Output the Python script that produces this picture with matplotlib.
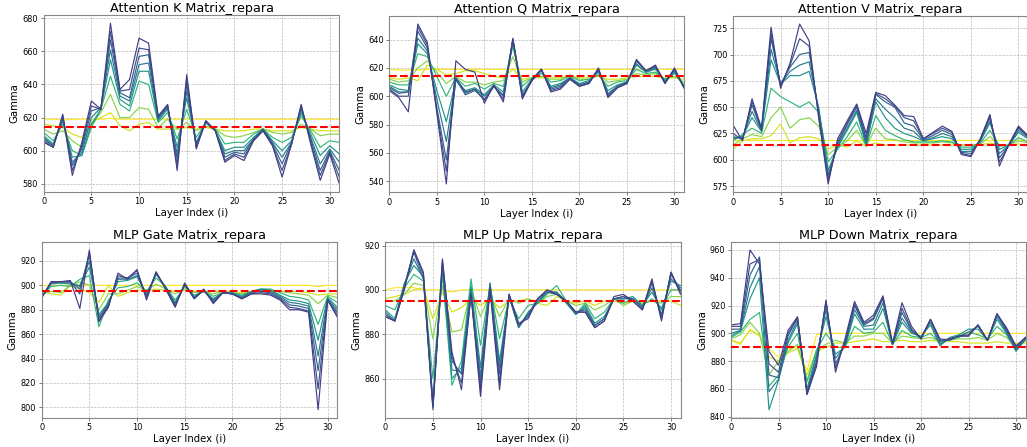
import matplotlib
matplotlib.use("Agg")
import matplotlib.pyplot as plt
from matplotlib.ticker import MultipleLocator

LAYERS = list(range(32))

# each panel: s0 = first (yellow) ... s6 = last (dark)
k_s0 = [619, 619, 618.5, 619, 619, 619, 619, 619.5, 619, 619, 619, 619, 619, 619, 619, 619,
        619, 619, 619, 619, 619, 619, 619, 619, 619, 619, 619, 619, 619, 619, 619, 619]
k_s1 = [616, 615, 614, 610, 608, 617, 620, 623, 615, 612, 616, 617, 613, 613, 613, 614,
        613, 614, 613, 612, 612, 612, 613, 613, 612, 612, 612, 614, 613, 612, 612, 612]
k_s2 = [613, 610, 612, 606, 602, 616, 623, 634, 620, 620, 626, 625, 614, 619, 613, 617,
        612, 615, 613, 609, 608, 609, 611, 613, 611, 610, 611, 616, 613, 609, 610, 610]
k_s3 = [611, 606, 616, 600, 597, 614, 625, 645, 628, 624, 642, 640, 617, 623, 607, 625,
        608, 617, 613, 604, 605, 605, 610, 613, 608, 605, 608, 621, 612, 602, 606, 605]
k_s4 = [609, 604, 618, 596, 597, 616, 625, 655, 631, 627, 648, 648, 618, 625, 602, 632,
        605, 617, 612, 600, 602, 602, 608, 613, 606, 600, 606, 623, 610, 597, 603, 598]
k_s4b = [608, 603, 619, 593, 599, 620, 626, 661, 633, 630, 652, 653, 619, 626, 598, 636,
         604, 617, 612, 598, 600, 600, 607, 613, 605, 596, 605, 625, 608, 592, 601, 593]
k_s5 = [607, 603, 620, 591, 601, 624, 626, 667, 635, 632, 657, 658, 620, 627, 595, 640,
        603, 618, 612, 596, 599, 598, 607, 613, 604, 592, 605, 626, 607, 588, 600, 588]
k_s5b = [606, 602, 621, 588, 603, 627, 625, 672, 636, 637, 662, 661, 620, 627, 591, 643,
         602, 618, 612, 594, 598, 596, 606, 612, 603, 588, 604, 627, 605, 585, 599, 584]
k_s6 = [605, 602, 622, 585, 605, 630, 625, 677, 637, 643, 668, 665, 621, 628, 588, 646,
        601, 618, 612, 593, 597, 594, 606, 612, 603, 584, 604, 628, 604, 582, 598, 580]

q_s0 = [619, 618.5, 618.5, 618.5, 619, 619, 619, 619, 619, 619, 619, 619, 619, 619, 619, 619,
        619, 619, 619, 619, 619, 619, 619, 619, 619, 619, 619, 619, 619, 619, 619, 619]
q_s1 = [613, 612, 613, 611, 622, 619, 615, 616, 618, 618, 616, 614, 613, 619, 612, 613,
        613, 613, 613, 614, 613, 613, 614, 612, 612, 613, 614, 614, 614, 613, 613, 612]
q_s2 = [612, 610, 611, 620, 625, 617, 609, 614, 610, 610, 608, 610, 611, 628, 610, 613,
        614, 612, 612, 615, 612, 612, 615, 610, 611, 612, 616, 615, 616, 612, 614, 610]
q_s3 = [610, 608, 608, 630, 628, 614, 600, 613, 607, 609, 605, 609, 607, 635, 607, 613,
        616, 610, 611, 614, 611, 612, 615, 607, 610, 611, 619, 616, 617, 612, 616, 608]
q_s4 = [608, 605, 604, 637, 630, 604, 582, 611, 604, 606, 601, 608, 603, 640, 603, 612,
        618, 607, 609, 613, 609, 611, 617, 604, 608, 610, 622, 617, 619, 611, 617, 607]
q_s4b = [607, 603, 603, 641, 632, 598, 568, 612, 602, 605, 600, 607, 601, 640, 601, 611,
         618, 606, 608, 613, 608, 610, 618, 602, 607, 610, 623, 617, 620, 610, 618, 606]
q_s5 = [606, 602, 603, 646, 634, 592, 555, 612, 601, 604, 598, 607, 600, 639, 600, 611,
        619, 605, 607, 613, 608, 610, 619, 601, 607, 610, 625, 618, 621, 610, 619, 606]
q_s5b = [605, 600, 600, 649, 636, 590, 547, 613, 603, 605, 597, 607, 598, 640, 599, 611,
         619, 604, 606, 612, 607, 609, 619, 600, 606, 609, 625, 618, 621, 609, 619, 606]
q_s6 = [604, 599, 589, 651, 638, 588, 538, 625, 619, 617, 595, 608, 596, 641, 598, 612,
        619, 603, 605, 612, 607, 609, 620, 599, 606, 609, 626, 618, 622, 609, 620, 606]

v_s0 = [619, 619, 619, 619, 619, 619, 619, 619, 619, 619, 619, 619, 619, 619, 619, 619,
        619, 619, 619, 619, 619, 619, 619, 619, 619, 619, 619, 619, 619, 619, 619, 619]
v_s1 = [610, 618, 620, 620, 623, 634, 616, 621, 622, 620, 610, 614, 612, 618, 613, 616,
        614, 614, 614, 614, 614, 614, 614, 614, 614, 614, 614, 616, 614, 614, 615, 614]
v_s2 = [614, 620, 624, 622, 640, 650, 630, 638, 640, 632, 605, 612, 618, 628, 613, 630,
        620, 619, 617, 616, 616, 616, 617, 616, 614, 614, 615, 622, 614, 614, 618, 616]
v_s3 = [618, 624, 630, 625, 668, 660, 655, 650, 655, 645, 598, 610, 622, 636, 613, 642,
        628, 623, 619, 617, 617, 617, 618, 617, 612, 612, 616, 628, 613, 614, 621, 617]
v_s4 = [620, 622, 640, 627, 695, 672, 680, 680, 684, 650, 590, 612, 628, 645, 614, 655,
        640, 630, 625, 622, 618, 620, 622, 620, 610, 610, 618, 635, 610, 614, 626, 620]
v_s4b = [621, 621, 646, 627, 705, 672, 684, 690, 693, 648, 586, 613, 630, 647, 616, 658,
         648, 640, 630, 627, 618, 621, 625, 622, 608, 608, 618, 637, 606, 614, 628, 621]
v_s5 = [622, 620, 652, 628, 715, 672, 688, 700, 702, 645, 583, 615, 633, 650, 618, 662,
        655, 650, 635, 632, 619, 623, 628, 624, 607, 606, 619, 640, 602, 614, 630, 622]
v_s5b = [625, 619, 655, 629, 720, 670, 690, 715, 708, 642, 580, 617, 635, 652, 621, 663,
         658, 651, 640, 637, 620, 625, 630, 626, 606, 604, 620, 642, 598, 614, 631, 622]
v_s6 = [633, 618, 658, 630, 726, 668, 692, 729, 713, 640, 577, 620, 637, 653, 625, 664,
        661, 652, 642, 641, 620, 626, 632, 627, 605, 603, 620, 643, 594, 615, 632, 623]

g_s0 = [900, 900, 900, 900, 900, 900, 900, 900, 900, 900, 900, 900, 900, 900, 900, 900,
        900, 900, 900, 900, 900, 900, 900, 900, 900, 900, 900, 900, 900, 899, 900, 900]
g_s1 = [895, 893, 892, 900, 897, 894, 886, 900, 891, 894, 896, 896, 897, 896, 895, 896,
        895, 895, 895, 895, 895, 894, 895, 895, 895, 895, 895, 895, 894, 892, 893, 893]
g_s2 = [893, 895, 894, 900, 903, 900, 880, 893, 893, 896, 899, 896, 901, 897, 893, 897,
        894, 895, 893, 895, 894, 893, 895, 896, 896, 895, 894, 893, 892, 885, 892, 890]
g_s3 = [892, 899, 900, 899, 905, 908, 866, 888, 898, 899, 902, 895, 906, 899, 888, 899,
        892, 895, 891, 894, 894, 892, 895, 897, 897, 894, 891, 890, 888, 868, 891, 886]
g_s4 = [891, 901, 902, 901, 900, 915, 876, 886, 903, 904, 907, 893, 909, 899, 886, 900,
        891, 895, 889, 894, 894, 891, 895, 897, 896, 892, 888, 887, 885, 855, 890, 882]
g_s4b = [890, 902, 902, 902, 899, 920, 874, 885, 905, 905, 908, 892, 910, 898, 885, 900,
         890, 896, 888, 894, 893, 890, 894, 896, 895, 891, 886, 885, 883, 842, 889, 880]
g_s5 = [890, 902, 903, 903, 897, 925, 873, 884, 906, 906, 910, 891, 910, 898, 884, 901,
        890, 896, 887, 894, 893, 890, 894, 895, 894, 890, 884, 883, 881, 830, 888, 878]
g_s5b = [890, 903, 903, 903, 893, 927, 871, 883, 908, 906, 912, 890, 911, 897, 883, 901,
         889, 896, 886, 894, 893, 889, 893, 894, 893, 889, 882, 881, 879, 815, 888, 876]
g_s6 = [890, 903, 903, 904, 881, 929, 870, 882, 910, 905, 913, 888, 911, 897, 882, 902,
        889, 897, 885, 894, 893, 889, 893, 893, 892, 888, 880, 880, 878, 798, 888, 874]

u_s0 = [900, 901, 901, 901, 900, 900, 900, 899, 900, 900, 900, 900, 900, 900, 900, 900,
        900, 900, 900, 900, 900, 900, 900, 900, 900, 900, 900, 900, 900, 900, 900, 900]
u_s1 = [896, 897, 898, 900, 901, 887, 899, 890, 892, 896, 893, 896, 892, 895, 895, 896,
        894, 893, 897, 895, 894, 895, 893, 895, 895, 894, 895, 894, 895, 895, 895, 893]
u_s2 = [895, 895, 898, 903, 902, 878, 902, 881, 882, 900, 888, 898, 888, 896, 894, 896,
        894, 897, 898, 895, 893, 894, 891, 893, 896, 893, 895, 894, 895, 894, 897, 897]
u_s3 = [893, 891, 901, 907, 904, 860, 907, 857, 868, 905, 875, 902, 878, 896, 887, 893,
        894, 898, 902, 895, 889, 894, 887, 890, 896, 894, 896, 893, 896, 892, 900, 900]
u_s4 = [891, 887, 903, 911, 906, 850, 910, 860, 865, 902, 865, 903, 868, 897, 883, 890,
        894, 899, 899, 894, 889, 893, 885, 888, 896, 896, 897, 893, 899, 891, 904, 902]
u_s4b = [890, 886, 902, 914, 905, 848, 911, 864, 863, 900, 861, 903, 865, 897, 883, 889,
         895, 899, 899, 895, 889, 892, 884, 887, 896, 896, 896, 892, 901, 889, 905, 901]
u_s5 = [889, 886, 902, 917, 905, 846, 912, 868, 862, 898, 858, 902, 862, 898, 884, 889,
        896, 899, 898, 895, 890, 891, 884, 887, 896, 897, 896, 892, 903, 888, 907, 900]
u_s5b = [888, 886, 901, 918, 907, 847, 913, 870, 858, 898, 855, 901, 858, 898, 884, 888,
         896, 900, 898, 895, 890, 890, 883, 886, 896, 897, 895, 891, 904, 887, 908, 899]
u_s6 = [888, 886, 900, 918, 908, 848, 914, 872, 855, 898, 852, 900, 855, 898, 885, 887,
        896, 900, 898, 895, 890, 890, 883, 886, 897, 898, 895, 891, 905, 886, 908, 898]

d_s0 = [895, 892, 903, 898, 889, 883, 889, 890, 873, 899, 900, 900, 900, 900, 900, 900,
        900, 900, 900, 900, 900, 900, 900, 900, 900, 900, 900, 900, 900, 900, 900, 900]
d_s1 = [895, 893, 902, 899, 883, 880, 886, 889, 870, 887, 890, 893, 893, 894, 895, 896,
        894, 894, 895, 894, 894, 895, 894, 894, 894, 893, 893, 893, 894, 893, 893, 893]
d_s2 = [896, 899, 908, 900, 870, 880, 887, 892, 866, 888, 892, 895, 893, 898, 898, 900,
        900, 893, 898, 897, 896, 897, 894, 895, 896, 896, 897, 895, 900, 897, 890, 895]
d_s3 = [897, 901, 910, 915, 862, 870, 890, 900, 865, 888, 900, 890, 890, 905, 900, 901,
        908, 892, 902, 898, 897, 900, 893, 896, 897, 901, 899, 896, 905, 899, 888, 895]
d_s4 = [898, 902, 925, 940, 845, 866, 893, 907, 860, 885, 912, 885, 890, 914, 903, 903,
        918, 892, 908, 900, 898, 906, 891, 897, 899, 903, 903, 895, 910, 900, 887, 896]
d_s4b = [900, 902, 933, 948, 858, 867, 895, 909, 858, 883, 917, 882, 891, 917, 905, 906,
         922, 892, 911, 901, 897, 908, 892, 896, 898, 901, 905, 895, 912, 901, 888, 896]
d_s5 = [903, 903, 942, 955, 870, 868, 898, 911, 857, 880, 922, 878, 892, 920, 906, 910,
        925, 892, 915, 902, 897, 910, 894, 896, 898, 898, 906, 895, 914, 902, 889, 897]
d_s5b = [905, 905, 950, 953, 878, 872, 900, 911, 856, 878, 923, 875, 894, 921, 907, 911,
         926, 892, 918, 903, 896, 910, 895, 896, 898, 898, 906, 895, 914, 903, 890, 897]
d_s6 = [906, 907, 960, 950, 887, 877, 902, 912, 856, 876, 924, 872, 896, 923, 908, 913,
        927, 893, 922, 905, 896, 910, 896, 895, 898, 899, 906, 895, 914, 904, 891, 897]

titles = ["Attention K Matrix_repara", "Attention Q Matrix_repara", "Attention V Matrix_repara",
          "MLP Gate Matrix_repara", "MLP Up Matrix_repara", "MLP Down Matrix_repara"]
targets = [614.5, 614.5, 614.5, 895, 895, 890]
ysteps = [20, 20, 25, 20, 20, 20]
series = [
    [k_s0, k_s1, k_s2, k_s3, k_s4, k_s4b, k_s5, k_s5b, k_s6],
    [q_s0, q_s1, q_s2, q_s3, q_s4, q_s4b, q_s5, q_s5b, q_s6],
    [v_s0, v_s1, v_s2, v_s3, v_s4, v_s4b, v_s5, v_s5b, v_s6],
    [g_s0, g_s1, g_s2, g_s3, g_s4, g_s4b, g_s5, g_s5b, g_s6],
    [u_s0, u_s1, u_s2, u_s3, u_s4, u_s4b, u_s5, u_s5b, u_s6],
    [d_s0, d_s1, d_s2, d_s3, d_s4, d_s4b, d_s5, d_s5b, d_s6],
]

# viridis position of each stage (yellow -> dark)
cpos = [1.0, 0.93, 0.82, 0.66, 0.52, 0.41, 0.31, 0.24, 0.18]
cmap = plt.get_cmap("viridis")

W, H = 1027.0, 447.0
# axes boxes in pixels: left, top, right, bottom
boxes = [(43.7, 15.3, 339.3, 191.7), (389.3, 16, 684, 192), (733, 16, 1028, 192),
         (41.7, 242, 337.2, 417.7), (385.3, 242, 680.5, 417.7), (731, 242, 1025.5, 417.7)]

fig = plt.figure(figsize=(10.27, 4.47), dpi=100)

for i in range(6):
    l, t, r, b = boxes[i]
    ax = fig.add_axes([l / W, (H - b) / H, (r - l) / W, (b - t) / H])
    for j, ys in enumerate(series[i]):
        ax.plot(LAYERS, ys, color=cmap(cpos[j]), lw=0.85)
    ax.axhline(targets[i], color="red", ls="--", lw=1.5, zorder=5)
    ax.set_xlim(0, 31)
    ax.yaxis.set_major_locator(MultipleLocator(ysteps[i]))
    ax.set_title(titles[i], fontsize=9.2, pad=2)
    ax.set_xlabel("Layer Index (i)", fontsize=7.3, labelpad=1.5)
    ax.set_ylabel("Gamma", fontsize=7.3, labelpad=2)
    ax.tick_params(labelsize=5.9, length=2.5, pad=1.5, width=0.6, color="#666666")
    ax.grid(True, ls="--", lw=0.5, color="#bbbbbb")
    for sp in ax.spines.values():
        sp.set_color("#888888")
        sp.set_linewidth(0.8)

fig.savefig("out.png", dpi=100)
